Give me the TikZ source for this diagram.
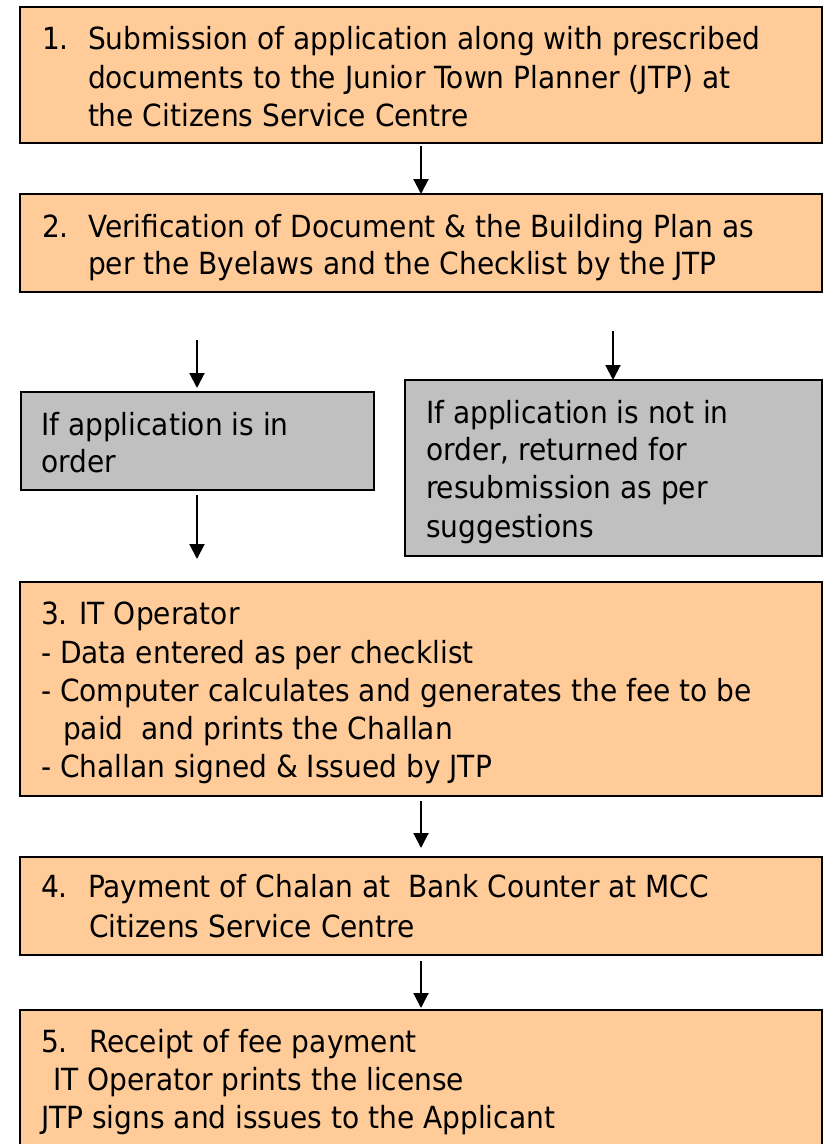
\documentclass[tikz,border=0pt]{standalone}
\usepackage{fontspec}
\setmainfont{DejaVu Sans}[FakeStretch=0.92]
\usetikzlibrary{arrows.meta}
\definecolor{peach}{HTML}{FFCC99}
\definecolor{graybox}{HTML}{C0C0C0}
\begin{document}
\begin{tikzpicture}[x=1pt,y=-1pt,
  box/.style={draw=black,line width=2.2pt,anchor=north west,inner sep=0pt,outer sep=0pt},
  obox/.style={box,fill=peach},
  gbox/.style={box,fill=graybox},
  txt/.style={anchor=base west,inner sep=0pt,outer sep=0pt,font=\fontsize{30.5}{38}\selectfont},
  arr/.style={line width=2pt,-{Triangle[length=15pt,width=15pt]}}]
\useasboundingbox (0,0) rectangle (823,1144);
% boxes
\node[obox,minimum width=802pt,minimum height=136pt] (b1) at (20,7) {};
\node[obox,minimum width=802pt,minimum height=98pt] (b2) at (20,194) {};
\node[gbox,minimum width=353pt,minimum height=98pt] (g1) at (21,392) {};
\node[gbox,minimum width=417pt,minimum height=176pt] (g2) at (405,380) {};
\node[obox,minimum width=802pt,minimum height=214pt] (b3) at (20,582) {};
\node[obox,minimum width=802pt,minimum height=98pt] (b4) at (20,857) {};
\node[obox,minimum width=802pt,minimum height=150pt] (b5) at (20,1010) {};
% texts
\node[txt] (t1n) at (42,49) {1.};
\node[txt] (t1a) at (88,49) {Submission of application along with prescribed};
\node[txt] (t1b) at (88,88) {documents to the Junior Town Planner (JTP) at};
\node[txt] (t1c) at (88,126) {the Citizens Service Centre};
\node[txt] (t2n) at (42,237) {2.};
\node[txt] (t2a) at (88,237) {Verification of Document \& the Building Plan as};
\node[txt] (t2b) at (88,274) {per the Byelaws and the Checklist by the JTP};
\node[txt] (tg1a) at (41,435) {If application is in};
\node[txt] (tg1b) at (41,472) {order};
\node[txt] (tg2a) at (426,423) {If application is not in};
\node[txt] (tg2b) at (426,460) {order, returned for};
\node[txt] (tg2c) at (426,498) {resubmission as per};
\node[txt] (tg2d) at (426,537) {suggestions};
\node[txt] (t3a) at (41,624) {3. IT Operator};
\node[txt] (t3b) at (41,663) {- Data entered as per checklist};
\node[txt] (t3c) at (41,701) {- Computer calculates and generates the fee to be};
\node[txt] (t3d) at (63,739) {paid\ \ and prints the Challan};
\node[txt] (t3e) at (41,777) {- Challan signed \& Issued by JTP};
\node[txt] (t4n) at (41,897) {4.};
\node[txt] (t4a) at (88,897) {Payment of Chalan at\ \ Bank Counter at MCC};
\node[txt] (t4b) at (89,937) {Citizens Service Centre};
\node[txt] (t5n) at (41,1052) {5.};
\node[txt] (t5a) at (89,1052) {Receipt of fee payment};
\node[txt] (t5b) at (53,1090) {IT Operator prints the license};
\node[txt] (t5c) at (41,1128) {JTP signs and issues to the Applicant};
% arrow end points
\coordinate (a1s) at (197,340);
\coordinate (a1e) at (197,388);
\coordinate (a2s) at (613,331);
\coordinate (a3s) at (197,495);
\coordinate (a3e) at (197,559);
% arrows
\draw[arr] (b1.south) ++(0,3) -- (b2.north);
\draw[arr] (a1s) -- (a1e);
\draw[arr] (a2s) -- (a2s |- g2.north);
\draw[arr] (a3s) -- (a3e);
\draw[arr] (b3.south) ++(0,5) -- ([yshift=9pt]b4.north);
\draw[arr] (b4.south) ++(0,6) -- ([yshift=2pt]b5.north);
\end{tikzpicture}
\end{document}
